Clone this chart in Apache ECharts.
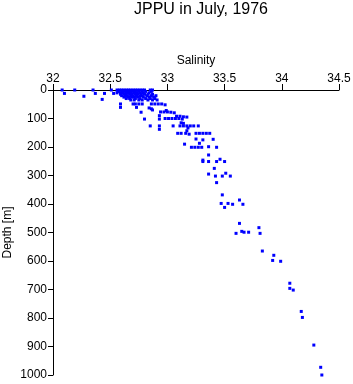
<!DOCTYPE html>
<html>
<head>
<meta charset="utf-8">
<script src="https://cdn.jsdelivr.net/npm/echarts@6/dist/echarts.min.js"></script>
<style>
html,body{margin:0;padding:0;background:#fff;}
#chart{width:353px;height:384px;}
</style>
</head>
<body>
<div id="chart"></div>
<script>
var titleText = "JPPU in July, 1976";
var xName = "Salinity";
var yName = "Depth [m]";
var xTicks = [32, 32.5, 33, 33.5, 34, 34.5];
var yTicks = [0, 100, 200, 300, 400, 500, 600, 700, 800, 900, 1000];

var salinity = [
  32.08,32.10,32.19,32.27,32.35,32.37,32.43,32.45,32.51,32.53,
  32.56,32.58,32.60,32.62,32.64,32.66,32.68,32.70,32.72,32.74,32.76,32.78,32.80,32.85,32.87,
  32.57,32.63,32.69,32.75,
  32.57,32.60,32.62,32.65,32.67,32.70,32.72,32.75,32.78,32.81,32.86,
  32.56,32.59,32.61,32.64,32.66,32.68,32.71,32.73,32.76,32.79,32.84,
  32.59,32.62,32.64,32.67,32.69,32.72,32.74,32.77,32.80,32.83,32.87,
  32.60,32.63,32.65,32.68,32.70,32.73,32.76,32.78,32.82,32.86,32.90,
  32.62,32.66,32.69,32.71,32.74,32.79,32.84,32.88,
  32.64,32.67,32.72,32.76,32.81,32.85,32.89,
  32.68,32.71,32.75,32.78,32.83,32.87,32.91,
  32.59,32.59,32.70,32.72,32.75,32.78,32.73,32.77,32.80,32.85,
  32.84,32.86,32.87,32.86,32.89,32.92,32.95,32.98,
  32.93,32.93,32.93,32.93,
  32.94,32.97,33.00,33.03,33.06,32.99,
  32.98,33.01,33.04,33.07,33.10,33.13,
  33.05,33.08,33.11,33.14,33.17,
  33.12,33.14,33.11,33.14,33.17,33.20,33.23,33.27,
  33.17,33.18,
  33.09,33.12,33.16,33.19,33.25,33.28,33.31,33.34,33.37,
  33.15,33.21,33.24,33.27,33.30,33.25,33.31,33.28,33.36,33.40,33.43,
  33.36,33.31,33.31,33.36,33.43,33.46,33.50,
  33.41,33.36,33.42,33.48,33.51,33.55,33.43,
  33.48,33.47,33.53,33.50,33.57,33.63,33.66,
  33.63,33.60,33.65,33.67,33.71,33.80,33.81,
  33.83,33.93,33.92,33.99,34.07,34.07,34.10,34.17,34.18,34.28,34.34,34.35
];
var depth = [
  0,12,0,22,0,12,33,12,0,12,
  0,0,0,0,0,0,0,0,0,0,0,0,0,0,0,
  2,2,2,2,
  5,5,5,5,5,5,5,5,5,5,5,
  10,10,10,10,10,10,10,10,10,10,10,
  15,15,15,15,15,15,15,15,15,15,15,
  20,20,20,20,20,20,20,20,20,20,20,
  25,25,25,25,25,25,25,25,
  30,30,30,30,30,30,30,
  35,35,35,35,35,35,35,
  49,61,49,49,49,49,61,78,102,126,
  63,66,70,49,49,49,49,52,
  90,102,126,138,
  77,77,77,78,80,72,
  100,100,100,100,100,102,
  126,92,92,94,95,
  115,117,126,126,126,126,126,126,
  143,133,
  152,152,152,155,152,152,152,152,152,
  190,201,201,201,201,172,175,187,199,173,201,
  228,246,251,251,251,243,251,
  275,295,302,302,292,302,325,
  368,398,398,412,401,386,401,
  468,503,496,499,499,483,503,
  565,580,598,601,678,696,702,777,798,895,973,1000
];

var points = [];
for (var i = 0; i < salinity.length; i++) points.push([salinity[i], depth[i]]);

var chart = echarts.init(document.getElementById('chart'), null, {renderer: 'canvas'});
var font = 'Liberation Sans, Arial, sans-serif';
chart.setOption({
  animation: false,
  backgroundColor: '#ffffff',
  title: {
    text: titleText,
    left: 196, top: -3,
    textAlign: 'center',
    textStyle: {fontFamily: font, fontSize: 16, fontWeight: 'normal', color: '#000'}
  },
  grid: {left: 53, right: 14, top: 90, bottom: 9, containLabel: false, outerBoundsMode: 'none'},
  xAxis: {
    type: 'value', position: 'top',
    min: xTicks[0], max: xTicks[xTicks.length - 1], interval: 0.5,
    name: xName, nameLocation: 'middle', nameGap: 23,
    nameTextStyle: {fontFamily: font, fontSize: 12, color: '#000'},
    axisLine: {show: true, onZero: false, lineStyle: {color: '#000', width: 1}},
    axisTick: {show: true, length: 6, lineStyle: {color: '#000'}},
    axisLabel: {fontFamily: font, fontSize: 12, color: '#000', margin: 5,
      formatter: function (v) { return String(v); }},
    splitLine: {show: false}
  },
  yAxis: {
    type: 'value', inverse: true,
    min: yTicks[0], max: yTicks[yTicks.length - 1], interval: 100,
    name: yName, nameLocation: 'middle', nameGap: 39, nameMoveOverlap: false,
    nameTextStyle: {fontFamily: font, fontSize: 12, color: '#000'},
    axisLine: {show: true, onZero: false, lineStyle: {color: '#000', width: 1}},
    axisTick: {show: true, length: 5, lineStyle: {color: '#000'}},
    axisLabel: {fontFamily: font, fontSize: 12, color: '#000', margin: 6,
      formatter: function (v) { return String(v); }},
    splitLine: {show: false}
  },
  series: [{
    type: 'scatter',
    data: points,
    symbol: 'rect',
    symbolSize: 3,
    itemStyle: {color: '#0000ff', opacity: 1},
    silent: true
  }]
});
</script>
</body>
</html>
